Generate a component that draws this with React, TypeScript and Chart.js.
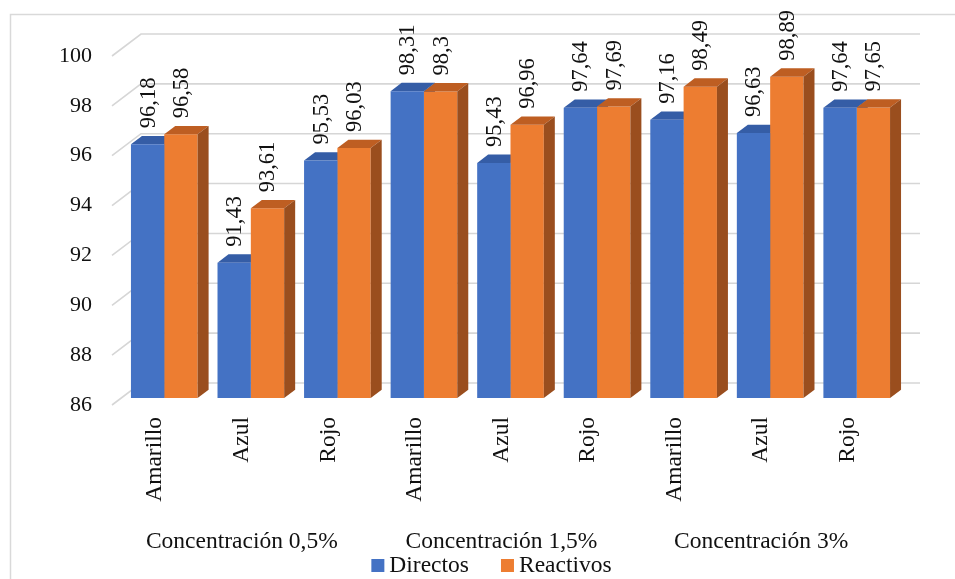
import { useEffect, useRef } from 'react';
import { Chart, registerables } from 'chart.js';

Chart.register(...registerables);

// Color categories (three per concentration)
const categories = ['Amarillo', 'Azul', 'Rojo', 'Amarillo', 'Azul', 'Rojo', 'Amarillo', 'Azul', 'Rojo'];
const groups = ['Concentración 0,5%', 'Concentración 1,5%', 'Concentración 3%'];
const directos = [96.18, 91.43, 95.53, 98.31, 95.43, 97.64, 97.16, 96.63, 97.64];
const reactivos = [96.58, 93.61, 96.03, 98.3, 96.96, 97.69, 98.49, 98.89, 97.65];
const yTicks = [86, 88, 90, 92, 94, 96, 98, 100];
const seriesNames = ['Directos', 'Reactivos'];

const FONT = "'Liberation Serif', 'Times New Roman', serif";
const TEXT = '#111111';

// face colors: front, top, side
const palette = [
  { front: '#4472C4', top: '#355DA6', side: '#2F528F' },
  { front: '#ED7D31', top: '#BE5E22', side: '#9A4E1E' },
];

// oblique projection: floor depth, bar placement inside it, bar depth
const FLOOR = { dx: 29, dy: -22 };
const BAR_SHIFT = { dx: 9, dy: -7 };
const BAR_DEPTH = { dx: 11, dy: -8.3 };

function drawFaces(chart: Chart, dsIndex: number) {
  const ctx = chart.ctx;
  const meta = chart.getDatasetMeta(dsIndex);
  const col = palette[dsIndex];
  const floor = chart.scales.y.getPixelForValue(chart.scales.y.min);
  meta.data.forEach((el: any) => {
    const props = el.getProps(['x', 'y', 'base', 'width'], true);
    const { x, y, width } = props;
    const base = Math.min(props.base, floor);
    const l = x - width / 2;
    const r = x + width / 2;
    // top face
    ctx.fillStyle = col.top;
    ctx.beginPath();
    ctx.moveTo(l, y);
    ctx.lineTo(r, y);
    ctx.lineTo(r + BAR_DEPTH.dx, y + BAR_DEPTH.dy);
    ctx.lineTo(l + BAR_DEPTH.dx, y + BAR_DEPTH.dy);
    ctx.closePath();
    ctx.fill();
    // right side face
    ctx.fillStyle = col.side;
    ctx.beginPath();
    ctx.moveTo(r, y);
    ctx.lineTo(r + BAR_DEPTH.dx, y + BAR_DEPTH.dy);
    ctx.lineTo(r + BAR_DEPTH.dx, base + BAR_DEPTH.dy);
    ctx.lineTo(r, base);
    ctx.closePath();
    ctx.fill();
  });
}

const excel3d = {
  id: 'excel3d',
  beforeDraw(chart: Chart) {
    const { ctx, chartArea } = chart;
    const yScale = chart.scales.y;
    ctx.save();
    // outer frame
    ctx.strokeStyle = '#d9d9d9';
    ctx.lineWidth = 1.5;
    ctx.strokeRect(10.5, 14.5, 1000, 1000);
    // perspective gridlines: slanted floor edge + back wall line
    ctx.strokeStyle = '#d6d6d6';
    ctx.lineWidth = 1.6;
    yTicks.forEach((v) => {
      const py = yScale.getPixelForValue(v);
      ctx.beginPath();
      ctx.moveTo(chartArea.left, py);
      ctx.lineTo(chartArea.left + FLOOR.dx, py + FLOOR.dy);
      ctx.lineTo(chartArea.right + FLOOR.dx, py + FLOOR.dy);
      ctx.stroke();
    });
    ctx.restore();
  },
  beforeDatasetsDraw(chart: Chart) {
    const ctx = chart.ctx;
    ctx.save();
    ctx.translate(BAR_SHIFT.dx, BAR_SHIFT.dy);
    const n = chart.data.datasets.length;
    for (let i = 0; i < n - 1; i++) drawFaces(chart, i);
  },
  afterDatasetsDraw(chart: Chart) {
    const ctx = chart.ctx;
    const n = chart.data.datasets.length;
    drawFaces(chart, n - 1);
    // value labels, rotated, above each bar
    ctx.fillStyle = TEXT;
    ctx.font = `22.5px ${FONT}`;
    ctx.textAlign = 'left';
    ctx.textBaseline = 'middle';
    chart.data.datasets.forEach((ds: any, i: number) => {
      const meta = chart.getDatasetMeta(i);
      meta.data.forEach((el: any, j: number) => {
        const { x, y } = el.getProps(['x', 'y'], true);
        const txt = String(ds.data[j]).replace('.', ',');
        ctx.save();
        ctx.translate(x, y - 16);
        ctx.rotate(-Math.PI / 2);
        ctx.fillText(txt, 0, 1);
        ctx.restore();
      });
    });
    ctx.restore();
  },
  afterDraw(chart: Chart) {
    // legend
    const ctx = chart.ctx;
    ctx.save();
    ctx.font = `23.5px ${FONT}`;
    ctx.textBaseline = 'alphabetic';
    ctx.textAlign = 'left';
    const box = 13;
    const gap = 5;
    const spacing = 32;
    const widths = seriesNames.map((s) => ctx.measureText(s).width);
    const total = widths.reduce((a, w) => a + box + gap + w, 0) + spacing * (seriesNames.length - 1);
    const cx = (chart.chartArea.left + chart.chartArea.right) / 2 - 10;
    let x = cx - total / 2;
    const baseY = 572;
    seriesNames.forEach((s, i) => {
      ctx.fillStyle = palette[i].front;
      ctx.fillRect(x, baseY - 13, box, box);
      ctx.fillStyle = TEXT;
      ctx.fillText(s, x + box + gap, baseY);
      x += box + gap + widths[i] + spacing;
    });
    ctx.restore();
  },
};

export default function App() {
  const canvasRef = useRef<HTMLCanvasElement | null>(null);

  useEffect(() => {
    if (!canvasRef.current) return;
    const chart = new Chart(canvasRef.current, {
      type: 'bar',
      data: {
        labels: categories,
        datasets: [
          {
            label: seriesNames[0],
            data: directos,
            backgroundColor: palette[0].front,
            xAxisID: 'x',
            yAxisID: 'y',
          },
          {
            label: seriesNames[1],
            data: reactivos,
            backgroundColor: palette[1].front,
            xAxisID: 'x',
            yAxisID: 'y',
          },
        ],
      },
      options: {
        responsive: false,
        animation: false,
        devicePixelRatio: 1,
        layout: { padding: { left: 0, right: 64, top: 56, bottom: 0 } },
        datasets: { bar: { barPercentage: 1, categoryPercentage: 0.77 } },
        plugins: { legend: { display: false }, tooltip: { enabled: false } },
        scales: {
          x: {
            type: 'category',
            position: 'bottom',
            grid: { display: false, drawTicks: false },
            border: { display: false },
            ticks: {
              autoSkip: false,
              minRotation: 90,
              maxRotation: 90,
              padding: 12,
              color: TEXT,
              font: { family: FONT, size: 23.5 },
            },
            afterFit: (s: any) => {
              s.height = 120;
            },
          },
          x2: {
            type: 'category',
            position: 'bottom',
            labels: groups,
            offset: true,
            grid: { display: false, drawTicks: false },
            border: { display: false },
            ticks: {
              autoSkip: false,
              minRotation: 0,
              maxRotation: 0,
              padding: 3,
              color: TEXT,
              font: { family: FONT, size: 23.5 },
            },
            afterFit: (s: any) => {
              s.height = 54;
            },
          },
          y: {
            min: 86,
            max: 100,
            grid: { display: false, drawTicks: false },
            border: { display: false },
            ticks: {
              stepSize: 2,
              padding: 20,
              color: TEXT,
              font: { family: FONT, size: 22 },
            },
            afterBuildTicks: (s: any) => {
              s.ticks = yTicks.map((v) => ({ value: v }));
            },
            afterFit: (s: any) => {
              s.width = 112;
            },
          },
        },
      },
      plugins: [excel3d],
    });
    return () => chart.destroy();
  }, []);

  return (
    <div style={{ position: 'fixed', left: 0, top: 0, width: 955, height: 579, background: '#ffffff' }}>
      <canvas ref={canvasRef} width={955} height={579} style={{ display: 'block' }} />
    </div>
  );
}
